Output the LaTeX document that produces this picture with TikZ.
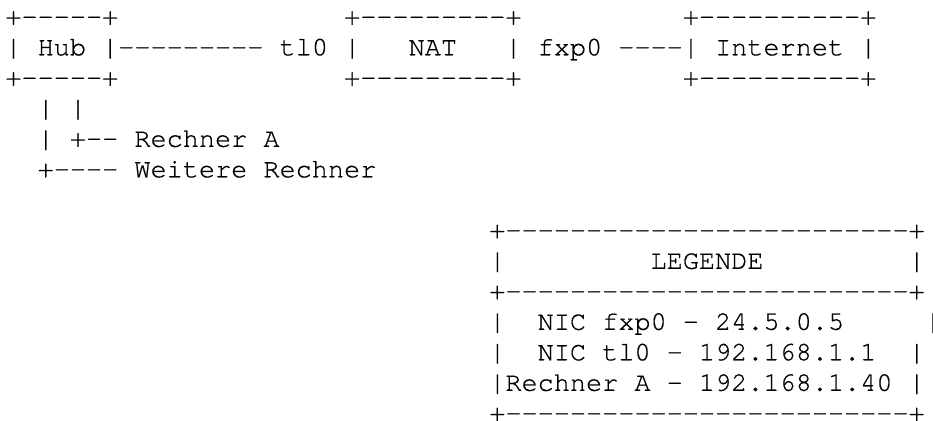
\documentclass[tikz,border=0pt]{standalone}
\usepackage{fontspec}
\setmonofont[FakeBold=0.6]{texgyrecursor-regular.otf}
\tikzset{
  txt/.style={anchor=base west, inner sep=0pt, outer sep=0pt, text=black,
    font=\ttfamily\fontsize{20.16pt}{24pt}\selectfont}
}
\newcommand\seg[4]{\node[txt] (#1) at ({5.4+16.13*#2},{24.8+30.5*#3}) {#4};}
\begin{document}
\begin{tikzpicture}[x=0.75pt,y=-0.75pt]
\fill[white] (0,0) rectangle (933,421);
\useasboundingbox (0,0) rectangle (933,421);
% row 0
\seg{hubtop}{0}{0}{+-----+}
\seg{nattop}{21}{0}{+---------+}
\seg{inettop}{42}{0}{+----------+}
% row 1
\seg{hubl}{0}{1}{|}
\seg{hub}{2}{1}{Hub}
\seg{hublink}{6}{1}{|---------}
\seg{tlz}{17}{1}{tl0}
\seg{natl}{21}{1}{|}
\seg{nat}{25}{1}{NAT}
\seg{natr}{31}{1}{|}
\seg{fxp}{33}{1}{fxp0}
\seg{inetlink}{38}{1}{----|}
\seg{inet}{44}{1}{Internet}
\seg{inetr}{53}{1}{|}
% row 2
\seg{hubbot}{0}{2}{+-----+}
\seg{natbot}{21}{2}{+---------+}
\seg{inetbot}{42}{2}{+----------+}
% rows 3-5
\seg{va}{2}{3}{|}
\seg{vb}{4}{3}{|}
\seg{vc}{2}{4}{|}
\seg{ra}{4}{4}{+--}
\seg{ratext}{8}{4}{Rechner A}
\seg{wr}{2}{5}{+----}
\seg{wrtext}{8}{5}{Weitere Rechner}
% legend
\seg{legtop}{30}{7}{+-------------------------+}
\seg{legl}{30}{8}{|}
\seg{leg}{40}{8}{LEGENDE}
\seg{legr}{56}{8}{|}
\seg{legmid}{30}{9}{+-------------------------+}
\seg{la}{30}{10}{|}
\seg{lat}{33}{10}{NIC fxp0 - 24.5.0.5}
\seg{lar}{57}{10}{|}
\seg{lb}{30}{11}{|}
\seg{lbt}{33}{11}{NIC tl0 - 192.168.1.1}
\seg{lbr}{56}{11}{|}
\seg{lc}{30}{12}{|}
\seg{lct}{31}{12}{Rechner A - 192.168.1.40}
\seg{lcr}{56}{12}{|}
\seg{legbot}{30}{13}{+-------------------------+}
\end{tikzpicture}
\end{document}
